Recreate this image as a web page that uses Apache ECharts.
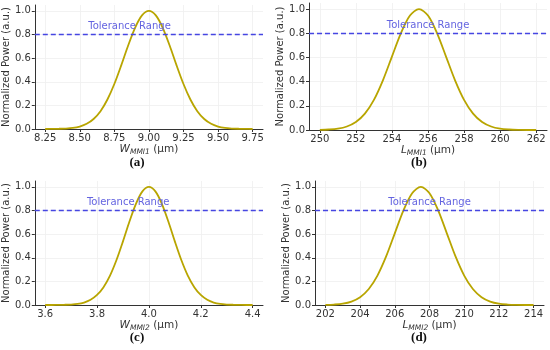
<!DOCTYPE html>
<html>
<head>
<meta charset="utf-8">
<script src="https://cdn.jsdelivr.net/npm/echarts@6/dist/echarts.min.js"></script>
<style>html,body{margin:0;padding:0;background:#fff}#c{width:550px;height:350px}</style>
</head>
<body>
<div id="c"></div>
<script>
// ---- data ----
const xA = [8.25,8.30,8.35,8.40,8.45,8.50,8.55,8.60,8.65,8.70,8.75,8.80,8.85,8.90,8.95,9.00,9.05,9.10,9.15,9.20,9.25,9.30,9.35,9.40,9.45,9.50,9.55,9.60,9.65,9.70,9.75];
const yA = [0.000,0.001,0.002,0.004,0.009,0.021,0.044,0.085,0.151,0.250,0.381,0.539,0.707,0.857,0.962,1.000,0.962,0.857,0.707,0.539,0.381,0.250,0.151,0.085,0.044,0.021,0.009,0.004,0.002,0.001,0.000];
const xB = [250,250.5,251,251.5,252,252.5,253,253.5,254,254.5,255,255.5,256,256.5,257,257.5,258,258.5,259,259.5,260,260.5,261,261.5,262];
const yB = [0.001,0.004,0.011,0.029,0.066,0.135,0.249,0.411,0.607,0.801,0.946,1.000,0.946,0.801,0.607,0.411,0.249,0.135,0.066,0.029,0.011,0.004,0.001,0.000,0.000];
const xC = [3.600,3.625,3.650,3.675,3.700,3.725,3.750,3.775,3.800,3.825,3.850,3.875,3.900,3.925,3.950,3.975,4.000,4.025,4.050,4.075,4.100,4.125,4.150,4.175,4.200,4.225,4.250,4.275,4.300,4.325,4.350,4.375,4.400];
const yC = [0.000,0.000,0.001,0.002,0.004,0.009,0.021,0.044,0.085,0.151,0.249,0.381,0.539,0.707,0.857,0.962,1.000,0.962,0.857,0.707,0.539,0.381,0.249,0.151,0.085,0.044,0.021,0.009,0.004,0.002,0.001,0.000,0.000];
const xD = [202,202.5,203,203.5,204,204.5,205,205.5,206,206.5,207,207.5,208,208.5,209,209.5,210,210.5,211,211.5,212,212.5,213,213.5,214];
const yD = [0.001,0.004,0.011,0.029,0.066,0.135,0.249,0.411,0.607,0.801,0.946,1.000,0.946,0.801,0.607,0.411,0.249,0.135,0.066,0.029,0.011,0.004,0.001,0.000,0.000];

const ticksA = [8.25,8.50,8.75,9.00,9.25,9.50,9.75];
const ticksB = [250,252,254,256,258,260,262];
const ticksC = [3.6,3.8,4.0,4.2,4.4];
const ticksD = [202,204,206,208,210,212,214];
const yTicks = [0,0.2,0.4,0.6,0.8,1.0];

const tolerance = 0.8;
const tolLabel = 'Tolerance Range';
const tolTextPos = [[8.86,0.865],[256,0.865],[3.92,0.865],[208,0.865]];
const xNames = [['W','MMI1'],['L','MMI1'],['W','MMI2'],['L','MMI2']];
const panelLabels = ['(a)','(b)','(c)','(d)'];
const xRanges = [[8.175,9.825],[249.4,262.6],[3.56,4.44],[201.4,214.6]];
const xDec = [2,0,1,0];

// ---- chart ----
const FONT = 'DejaVu Sans';
const curveColor = '#b8a500';
const tolColor = '#4646e2';
const grids = [
  {left:33, right:287, top:5, height:124},
  {left:309, right:3, top:3, height:127},
  {left:33, right:287, top:181, height:124},
  {left:315, right:6, top:181, height:124}
];
const xs = [xA,xB,xC,xD], ys=[yA,yB,yC,yD], xt=[ticksA,ticksB,ticksC,ticksD];

const option = {
  animation:false,
  backgroundColor:'#fff',
  textStyle:{fontFamily:FONT},
  grid: grids,
  xAxis: grids.map((g,i)=>({
    type:'value', gridIndex:i, min:xRanges[i][0], max:xRanges[i][1],
    axisLine:{show:true,lineStyle:{color:'#333',width:1}},
    axisTick:{show:true,customValues:xt[i],length:3,lineStyle:{color:'#333'}},
    axisLabel:{customValues:xt[i],color:'#333',fontSize:10,margin:4,fontFamily:FONT,
      formatter:v=>Number(v).toFixed(xDec[i])},
    splitLine:{show:true,lineStyle:{color:'#efefef',width:0.8}},
    name:'{i|'+xNames[i][0]+'}{s|'+xNames[i][1]+'}{n| (μm)}',
    nameLocation:'middle', nameGap:14,
    nameTextStyle:{rich:{
      i:{fontStyle:'italic',fontSize:10.5,color:'#333',fontFamily:FONT},
      s:{fontStyle:'italic',fontSize:7.5,color:'#333',fontFamily:FONT,padding:[5,0,0,0]},
      n:{fontSize:10.5,color:'#333',fontFamily:FONT}
    }}
  })),
  yAxis: grids.map((g,i)=>({
    type:'value', gridIndex:i, min:0, max:1.05,
    axisLine:{show:true,lineStyle:{color:'#333',width:1}},
    axisTick:{show:true,customValues:yTicks,length:3,lineStyle:{color:'#333'}},
    axisLabel:{customValues:yTicks,color:'#333',fontSize:10,margin:4,fontFamily:FONT,
      formatter:v=>Number(v).toFixed(1)},
    splitLine:{show:true,lineStyle:{color:'#efefef',width:0.8}},
    name:'Normalized Power (a.u.)', nameLocation:'middle', nameGap:21,
    nameTextStyle:{fontSize:10,color:'#333',fontFamily:FONT}
  })),
  series: grids.map((g,i)=>({
    type:'line', xAxisIndex:i, yAxisIndex:i,
    data: xs[i].map((x,k)=>[x, ys[i][k]]),
    smooth:0.3, showSymbol:false, symbol:'none',
    lineStyle:{color:curveColor,width:1.8},
    markLine:{silent:true,symbol:'none',label:{show:false},
      lineStyle:{color:tolColor,type:[5,3],width:1.3,opacity:1},
      emphasis:{disabled:true},
      data:[{yAxis:tolerance}]},
    markPoint:{silent:true,symbol:'rect',symbolSize:0,
      label:{show:true,position:'inside',formatter:tolLabel,color:'#6464e0',fontSize:10,fontFamily:FONT},
      data:[{coord:tolTextPos[i]}]}
  })),
  graphic: panelLabels.map((t,i)=>({
    type:'text',
    x: [137,419,137,419][i], y: [163,163,338,338][i],
    style:{text:t,font:'bold 13px "Liberation Serif", serif',fill:'#111',align:'center',verticalAlign:'middle'}
  }))
};
const chart = echarts.init(document.getElementById('c'),null,{renderer:'canvas'});
chart.setOption(option);
</script>
</body>
</html>
